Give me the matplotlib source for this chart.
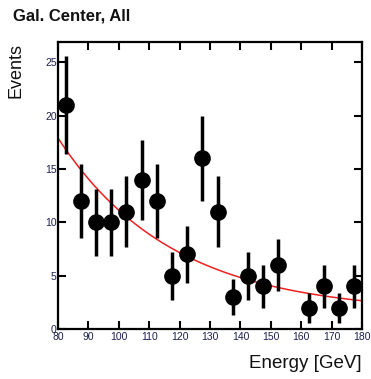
import numpy as np
import matplotlib
matplotlib.use("Agg")
import matplotlib.pyplot as plt

plt.rcParams['font.family'] = ['Liberation Sans', 'DejaVu Sans']

# Event counts per 5 GeV energy bin (bin centres in GeV)
energy = [82.5, 87.5, 92.5, 97.5, 102.5, 107.5, 112.5, 117.5, 122.5, 127.5,
          132.5, 137.5, 142.5, 147.5, 152.5, 162.5, 167.5, 172.5, 177.5]
events = [21, 12, 10, 10, 11, 14, 12, 5, 7, 16,
          11, 3, 5, 4, 6, 2, 4, 2, 4]

# Background model: exponential plus constant
bkg_amp = 16.4
bkg_slope = 0.0266
bkg_const = 1.5
e_min, e_max = 80, 180

x_ticks = [80, 90, 100, 110, 120, 130, 140, 150, 160, 170, 180]
y_ticks = [0, 5, 10, 15, 20, 25]

W, H = 371, 379
fig = plt.figure(figsize=(W / 100, H / 100), dpi=100)
ax = fig.add_axes([58 / W, 1 - 329 / H, (362 - 58) / W, (329 - 42) / H])

e = np.array(energy, dtype=float)
n = np.array(events, dtype=float)
ax.errorbar(e, n, yerr=np.sqrt(n), fmt='o', color='black', ms=11,
            elinewidth=2.5, capsize=0, zorder=3)

xs = np.linspace(e_min, e_max, 300)
ax.plot(xs, bkg_amp * np.exp(-bkg_slope * (xs - e_min)) + bkg_const,
        color='#f02020', lw=1.1, zorder=2)

ax.set_xlim(e_min, e_max)
ax.set_ylim(0, 26.9)
ax.set_xticks(x_ticks)
ax.set_yticks(y_ticks)
label_color = '#1c2050'
ax.tick_params(direction='in', length=6, width=1.5, top=True, right=True,
               labelsize=7.5, labelcolor=label_color, pad=2.5)
ax.tick_params(axis='y', pad=1)
for s in ax.spines.values():
    s.set_linewidth(1.6)

fig.text(13 / W, 1 - 16 / H, 'Gal. Center, All', fontsize=12,
         fontweight='bold', ha='left', va='center', color='#111111')
fig.text(16 / W, 1 - 43 / H, 'Events', fontsize=13, rotation=90,
         ha='center', va='top', color='#111111')
fig.text(362 / W, 1 - 364 / H, 'Energy [GeV]', fontsize=13.5,
         ha='right', va='center', color='#111111')

fig.savefig('out.png', dpi=100)
